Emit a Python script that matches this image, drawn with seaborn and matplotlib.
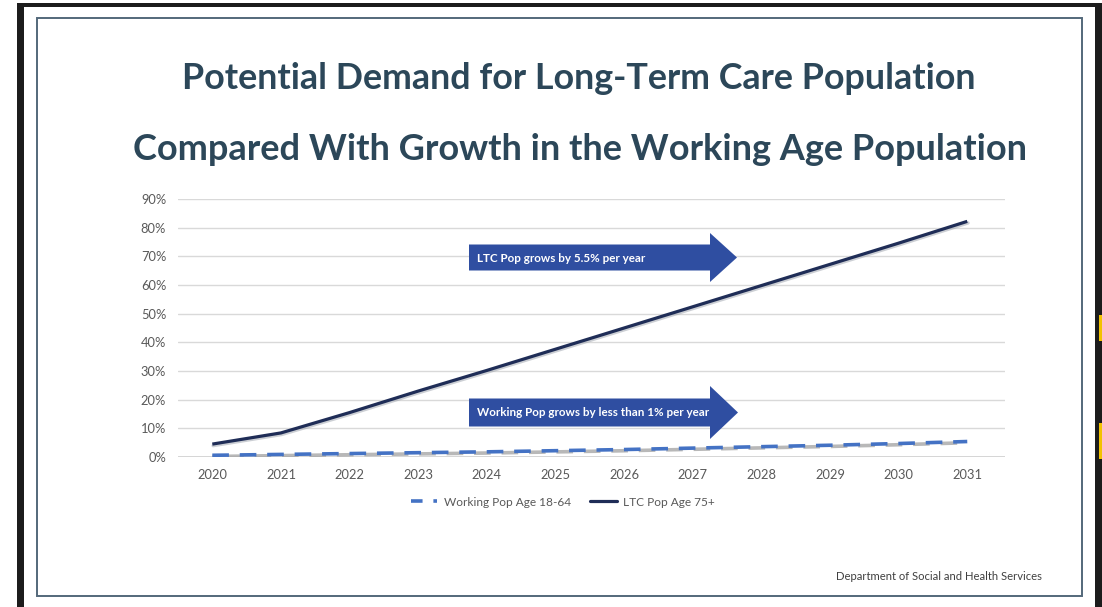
import matplotlib
matplotlib.use("Agg")
import matplotlib.pyplot as plt
from matplotlib.patches import Polygon, Rectangle
from matplotlib.lines import Line2D
from matplotlib.ticker import PercentFormatter
import matplotlib.transforms as mtransforms
import pandas as pd
import seaborn as sns

# ---- data -------------------------------------------------------------
years = [2020, 2021, 2022, 2023, 2024, 2025, 2026, 2027, 2028, 2029, 2030, 2031]
ltc_growth = [0.045, 0.084, 0.155, 0.230, 0.302, 0.376, 0.450, 0.524, 0.598, 0.672, 0.746, 0.822]
working_growth = [0.006, 0.009, 0.012, 0.015, 0.018, 0.022, 0.026, 0.031, 0.036, 0.041, 0.047, 0.054]
series_names = ["Working Pop Age 18-64", "LTC Pop Age 75+"]
y_ticks = [0.0, 0.1, 0.2, 0.3, 0.4, 0.5, 0.6, 0.7, 0.8, 0.9]
title_lines = ["Potential Demand for Long-Term Care Population",
               "Compared With Growth in the Working Age Population"]
arrow_notes = ["LTC Pop grows by 5.5% per year",
               "Working Pop grows by less than 1% per year"]
footer = "Department of Social and Health Services"

df = pd.DataFrame({
    "year": years * 2,
    "growth": working_growth + ltc_growth,
    "series": [series_names[0]] * len(years) + [series_names[1]] * len(years),
})

# ---- style ------------------------------------------------------------
sns.set_theme(style="white")
plt.rcParams["font.family"] = ["Lato", "DejaVu Sans"]

W, H = 1102, 607
fig = plt.figure(figsize=(W / 100, H / 100), dpi=100)
fig.patch.set_facecolor("white")

NAVY = "#1f2d57"
BLUE = "#4472c4"
TITLE = "#2c4759"
ARROW = "#2f4ea1"
TICK = "#595959"


def px_rect(x0, y0, x1, y1):
    """Figure-fraction rectangle from pixel edges (origin top-left)."""
    return [x0 / W, 1 - y1 / H, (x1 - x0) / W, (y1 - y0) / H]


def shifted(ax, dx_px, dy_px):
    return ax.transData + mtransforms.ScaledTranslation(dx_px / 100, dy_px / 100, fig.dpi_scale_trans)


# ---- chart axes ---------------------------------------------------------
ax = fig.add_axes(px_rect(178, 199, 1005, 457))
ax.set_facecolor("none")

work = df[df["series"] == series_names[0]]
ltc = df[df["series"] == series_names[1]]

# soft grey shadow under the dashed line
sns.lineplot(data=work, x="year", y="growth", ax=ax, color="#a6a6a6",
             linewidth=2.6, alpha=0.8, legend=False, zorder=3)
shadow = ax.lines[-1]
shadow.set_linestyle((3.5, (4.6, 3.0)))
shadow.set_transform(shifted(ax, 0, -1.2))

sns.lineplot(data=work, x="year", y="growth", ax=ax, color=BLUE,
             linewidth=2.6, legend=False, zorder=4)
ax.lines[-1].set_linestyle((0, (4.6, 3.0)))

# faint shadow under the solid line
sns.lineplot(data=ltc, x="year", y="growth", ax=ax, color="#9aa0aa",
             linewidth=2.4, alpha=0.5, legend=False, zorder=3)
ax.lines[-1].set_transform(shifted(ax, 0.8, -1.6))

sns.lineplot(data=ltc, x="year", y="growth", ax=ax, color=NAVY,
             linewidth=2.3, legend=False, zorder=5)
ax.lines[-1].set_solid_capstyle("butt")

ax.set_xlim(2019.5, 2031.55)
ax.set_ylim(0, 0.9)
ax.set_xticks(years)
ax.set_xticklabels([str(y) for y in years])
ax.set_yticks(y_ticks)
ax.yaxis.set_major_formatter(PercentFormatter(1.0, decimals=0))
ax.grid(axis="y", color="#d9d9d9", linewidth=1.0)
ax.grid(axis="x", visible=False)
for s in ax.spines.values():
    s.set_visible(False)
ax.axhline(0, color="#d0d0d0", linewidth=1.2, zorder=1)
ax.tick_params(axis="both", length=0, labelsize=9.3, labelcolor=TICK)
ax.tick_params(axis="y", pad=8.5)
ax.tick_params(axis="x", pad=8.5)
ax.set_xlabel("")
ax.set_ylabel("")

# legend below the plot
handles = [
    Line2D([], [], color=BLUE, linewidth=2.6, linestyle=(0, (3.2, 3.0))),
    Line2D([], [], color=NAVY, linewidth=2.3),
]
fig.legend(handles, series_names, loc="center", bbox_to_anchor=(563 / W, 1 - 502 / H),
           ncol=2, frameon=False, fontsize=8.6, labelcolor=TICK,
           handlelength=2.2, handletextpad=0.55, columnspacing=1.6)

# ---- overlay in pixel coordinates --------------------------------------
ov = fig.add_axes([0, 0, 1, 1], zorder=10)
ov.set_xlim(0, W)
ov.set_ylim(H, 0)
ov.axis("off")
ov.patch.set_alpha(0)

# dark screen border
ov.add_patch(Rectangle((17, 3), 7, H, color="#1c1c1c", lw=0))
ov.add_patch(Rectangle((17, 3), W - 17, 4, color="#1c1c1c", lw=0))
ov.add_patch(Rectangle((1095, 3), 7, H, color="#1c1c1c", lw=0))
ov.add_patch(Rectangle((1099, 315), 3, 26, color="#f2c200", lw=0))
ov.add_patch(Rectangle((1099, 423), 3, 36, color="#f2c200", lw=0))

# slide frame
ov.add_patch(Rectangle((37, 18), 1082 - 37, 596 - 18, fill=False,
                       edgecolor="#53687a", linewidth=1.4))

# title
ov.text(579, 78.5, title_lines[0], ha="center", va="center", fontsize=25.8,
        fontweight="bold", color=TITLE)
ov.text(580, 149, title_lines[1], ha="center", va="center", fontsize=26.0,
        fontweight="bold", color=TITLE)


def block_arrow(x0, x_neck, x_tip, y_mid, body_half, head_half, text):
    pts = [(x0, y_mid - body_half), (x_neck, y_mid - body_half),
           (x_neck, y_mid - head_half), (x_tip, y_mid),
           (x_neck, y_mid + head_half), (x_neck, y_mid + body_half),
           (x0, y_mid + body_half)]
    ov.add_patch(Polygon(pts, closed=True, facecolor=ARROW, edgecolor="none"))
    ov.text(x0 + 8, y_mid + 0.5, text, ha="left", va="center", fontsize=8.4,
            fontweight="bold", color="white")


block_arrow(469, 710, 737, 257.5, 13, 24.5, arrow_notes[0])
block_arrow(469, 710, 738, 412.5, 14, 26.5, arrow_notes[1])

# footer
ov.text(1042, 577, footer, ha="right", va="center", fontsize=8.1, color="#404040")

fig.savefig("out.png", dpi=100, facecolor="white")
